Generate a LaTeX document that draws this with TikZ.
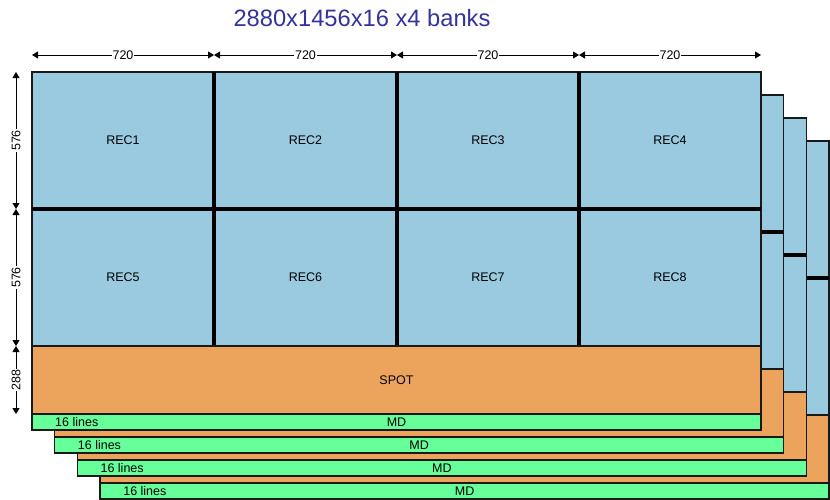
\documentclass[tikz,border=0pt]{standalone}
\usepackage{fontspec}
\setmainfont{Liberation Sans}
\usetikzlibrary{arrows.meta}

\definecolor{recblue}{RGB}{153,202,224}
\definecolor{spotorange}{RGB}{236,164,92}
\definecolor{mdgreen}{RGB}{102,255,153}
\definecolor{titleblue}{RGB}{51,51,153}

\tikzset{
  outline/.style={draw=black!90, line width=1.5pt},
  divider/.style={line width=4.5pt, black},
  dimline/.style={{Triangle[length=6pt,width=7pt]}-{Triangle[length=6pt,width=7pt]}, line width=1pt},
  dimtext/.style={fill=white, inner sep=1pt, font=\fontsize{12.5}{13}\selectfont},
  celltext/.style={font=\fontsize{12.5}{13}\selectfont},
}

\begin{document}
\begin{tikzpicture}[x=1pt, y=-1pt]
\useasboundingbox (0,0) rectangle (830,499);

\node[font=\fontsize{23.7}{24}\selectfont, text=titleblue] (title) at (362,18) {2880x1456x16 x4 banks};

% banks, back to front
\foreach \b in {3,2,1,0}{
  \begin{scope}[shift={({22.7*\b},{23*\b})}]
    \draw[outline, fill=recblue] (32,72) rectangle (761,346);
    \draw[divider] (32,209) -- (761,209);
    \foreach \x in {214,397,579} \draw[divider] (\x,72) -- (\x,346);
    \draw[outline, fill=spotorange] (32,346) rectangle (761,414);
    \draw[outline, fill=mdgreen] (32,414) rectangle (761,430);
    \node[celltext, anchor=west, inner sep=0pt] (lines\b) at (55,422) {16 lines};
    \node[celltext] (md\b) at (396.5,422) {MD};
  \end{scope}
}

% front bank labels
\node[celltext] (rec1) at (123,140) {REC1};
\node[celltext] (rec2) at (305.5,140) {REC2};
\node[celltext] (rec3) at (488,140) {REC3};
\node[celltext] (rec4) at (670,140) {REC4};
\node[celltext] (rec5) at (123,277) {REC5};
\node[celltext] (rec6) at (305.5,277) {REC6};
\node[celltext] (rec7) at (488,277) {REC7};
\node[celltext] (rec8) at (670,277) {REC8};
\node[celltext] (spot) at (396.5,380) {SPOT};

% dimensions
\coordinate (h0) at (32,55);
\coordinate (h1) at (214,55);
\coordinate (h2) at (397,55);
\coordinate (h3) at (579,55);
\coordinate (h4) at (761,55);
\draw[dimline] (h0) -- node[dimtext] {720} (h1);
\draw[dimline] (h1) -- node[dimtext] {720} (h2);
\draw[dimline] (h2) -- node[dimtext] {720} (h3);
\draw[dimline] (h3) -- node[dimtext] {720} (h4);

\coordinate (v0) at (16,72);
\coordinate (v1) at (16,209);
\coordinate (v2) at (16,346);
\coordinate (v3) at (16,414);
\draw[dimline] (v0) -- node[dimtext, rotate=90] {576} (v1);
\draw[dimline] (v1) -- node[dimtext, rotate=90] {576} (v2);
\draw[dimline] (v2) -- node[dimtext, rotate=90] {288} (v3);
\end{tikzpicture}
\end{document}
